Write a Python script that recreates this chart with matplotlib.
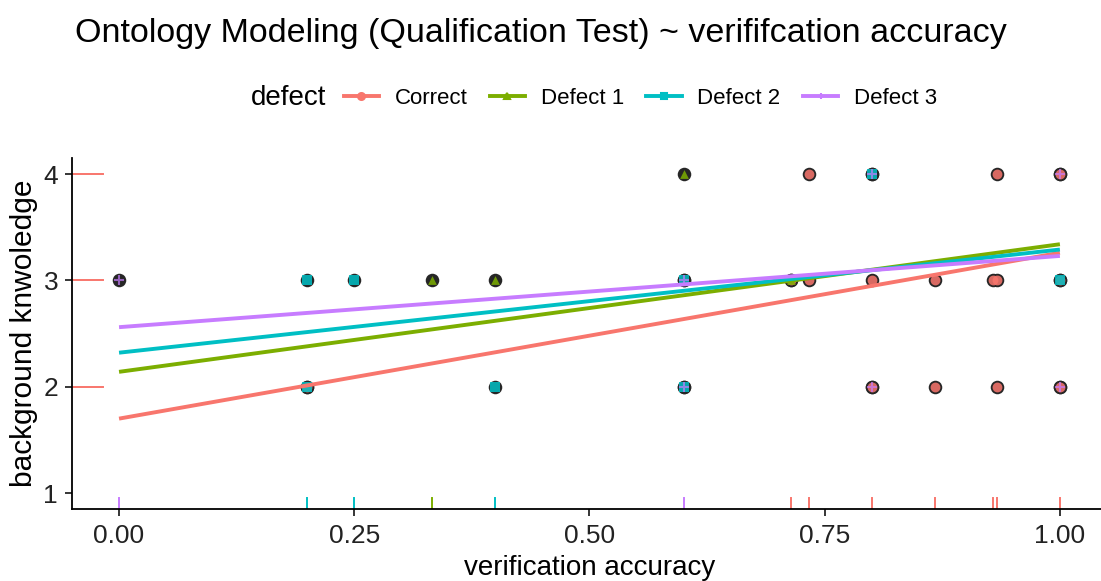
import matplotlib.pyplot as plt
from matplotlib.lines import Line2D
import numpy as np

plt.rcParams['font.family'] = ['Liberation Sans', 'DejaVu Sans']

# groups and ggplot-like hue colours
groups = ["Correct", "Defect 1", "Defect 2", "Defect 3"]
colors = ["#F8766D", "#7CAE00", "#00BFC4", "#C77CFF"]
markers = ["o", "^", "s", "+"]

# points per group (verification accuracy, background knowledge)
correct_x = [0.2, 0.733, 0.733, 0.714, 0.8, 0.8, 0.867, 0.867, 0.929, 0.933, 0.933, 0.933, 1.0, 1.0, 1.0]
correct_y = [2, 4, 3, 3, 3, 2, 3, 2, 3, 3, 4, 2, 4, 3, 2]
defect1_x = [0.333, 0.4, 0.6, 0.714]
defect1_y = [3, 3, 4, 3]
defect2_x = [0.2, 0.25, 0.2, 0.4, 0.6, 0.6, 0.8, 1.0]
defect2_y = [3, 3, 2, 2, 3, 2, 4, 3]
defect3_x = [0.0, 0.6, 0.6, 0.8, 1.0, 1.0, 0.8]
defect3_y = [3, 3, 2, 4, 4, 2, 2]

# linear fits: value at x=0 and at x=1
fit_start = [1.70, 2.14, 2.32, 2.56]
fit_end = [3.26, 3.34, 3.29, 3.23]

# rug marks along the x axis (colour that shows on top)
rug_x = [
    [0.714, 0.733, 0.8, 0.867, 0.929, 0.933, 1.0],
    [0.333],
    [0.2, 0.25, 0.4],
    [0.0, 0.6],
]
# rug along the y axis (only the Correct group shows)
rug_y = [2, 3, 4]

xs = [correct_x, defect1_x, defect2_x, defect3_x]
ys = [correct_y, defect1_y, defect2_y, defect3_y]

fig = plt.figure(figsize=(11.01, 5.81), dpi=100)
ax = fig.add_axes([0.0654, 0.1239, 0.940, 0.604])

# dark rings under every point
for x, y in zip(xs, ys):
    ax.scatter(x, y, s=95, color='#262626', zorder=3, linewidths=0)

# coloured shapes on top
for i in range(4):
    if markers[i] == '+':
        ax.scatter(xs[i], ys[i], s=55, marker='+', color=colors[i], alpha=0.7,
                   linewidths=1.5, zorder=4)
    else:
        sz = 50 if markers[i] != '^' else 40
        ax.scatter(xs[i], ys[i], s=sz, marker=markers[i], color=colors[i],
                   alpha=0.85, linewidths=0, zorder=4)

# fitted lines
for i in range(4):
    ax.plot([0, 1], [fit_start[i], fit_end[i]], color=colors[i], lw=2.8, zorder=5,
            solid_capstyle='butt')

# rugs
for i in range(4):
    for rx in rug_x[i]:
        ax.axvline(rx, ymin=0, ymax=0.03, color=colors[i], lw=1.4, zorder=2)
for ry in rug_y:
    ax.axhline(ry, xmin=0, xmax=0.03, color=colors[0], lw=1.4, zorder=2)

ax.set_xlim(-0.05, 1.05)
ax.set_ylim(0.85, 4.15)
ax.set_xticks([0, 0.25, 0.5, 0.75, 1.0])
ax.set_xticklabels(["0.00", "0.25", "0.50", "0.75", "1.00"])
ax.set_yticks([1, 2, 3, 4])
ax.tick_params(labelsize=19, length=5, width=1.1, colors='black', labelcolor='#222222')
ax.tick_params(axis='x', pad=6)
ax.tick_params(axis='y', pad=5)
for s in ['top', 'right']:
    ax.spines[s].set_visible(False)
for s in ['left', 'bottom']:
    ax.spines[s].set_linewidth(1.3)
ax.set_xlabel("verification accuracy", fontsize=20, labelpad=5)
ax.set_ylabel("background knwoledge", fontsize=21.5, labelpad=4)

fig.text(0.068, 0.943, "Ontology Modeling (Qualification Test) ~ verififcation accuracy",
         fontsize=24.5, va='center', ha='left')

# legend: title on the left, entries in one row
fig.text(0.228, 0.831, "defect", fontsize=20, va='center', ha='left')
handles = [Line2D([0], [0], color=colors[i], marker=markers[i], lw=2.8, markersize=5,
                  markeredgewidth=1.5) for i in range(4)]
fig.legend(handles, groups, loc='center left', bbox_to_anchor=(0.312, 0.831), ncol=4,
           frameon=False, fontsize=16, handlelength=1.6, handletextpad=0.7,
           columnspacing=1.0, borderaxespad=0, borderpad=0)

fig.savefig("out.png", dpi=100)
